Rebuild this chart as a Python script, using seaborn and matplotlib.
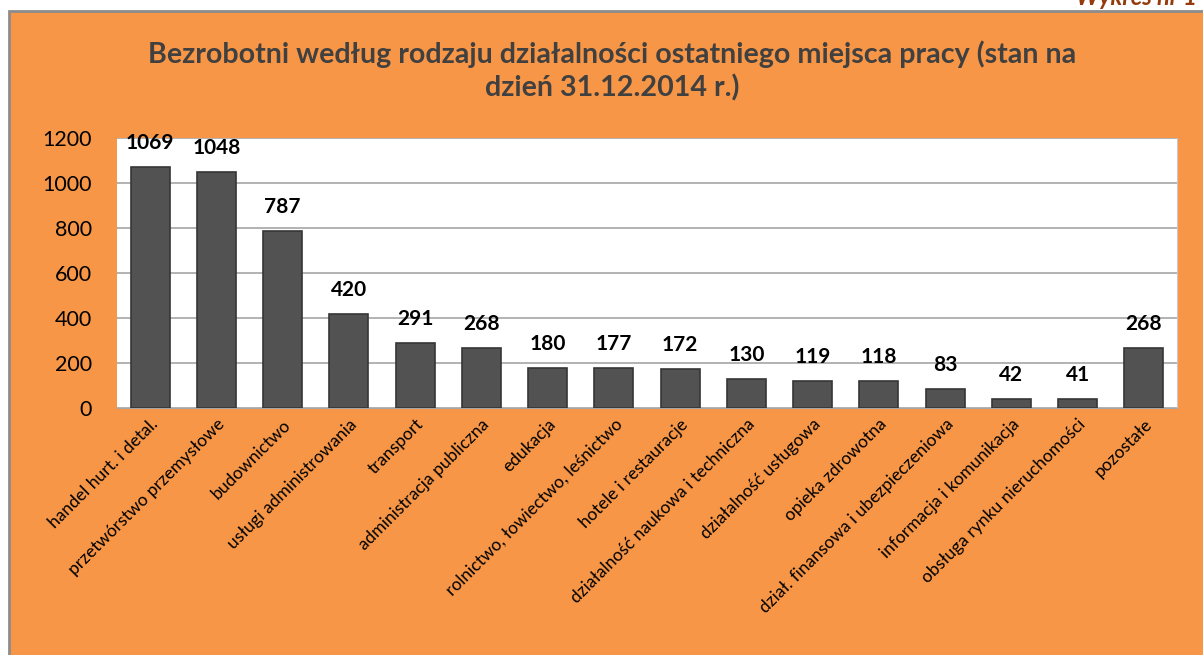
import matplotlib
matplotlib.use("Agg")
import matplotlib.pyplot as plt
import seaborn as sns
import pandas as pd
from matplotlib.patches import Rectangle

# dane
categories = [
    'handel hurt. i detal.', 'przetwórstwo przemysłowe', 'budownictwo',
    'usługi administrowania', 'transport', 'administracja publiczna',
    'edukacja', 'rolnictwo, łowiectwo, leśnictwo', 'hotele i restauracje',
    'działalność naukowa i techniczna', 'działalność usługowa',
    'opieka zdrowotna', 'dział. finansowa i ubezpieczeniowa',
    'informacja i komunikacja', 'obsługa rynku nieruchomości', 'pozostałe',
]
values = [1069, 1048, 787, 420, 291, 268, 180, 177, 172, 130, 119, 118, 83, 42, 41, 268]
y_ticks = [0, 200, 400, 600, 800, 1000, 1200]

title = 'Bezrobotni według rodzaju działalności ostatniego miejsca pracy (stan na\ndzień 31.12.2014 r.)'

df = pd.DataFrame({'kategoria': categories, 'liczba': values})

sns.set_style('white')
plt.rcParams['font.family'] = ['Lato', 'DejaVu Sans']

orange = '#F79646'
fig = plt.figure(figsize=(12.03, 6.55), dpi=100)
fig.patch.set_facecolor('white')

# tło panelu
panel = Rectangle((9 / 1203, -0.05), 1.1, 1.05 - 11 / 655, transform=fig.transFigure,
                  facecolor=orange, edgecolor='#8c8c8c', linewidth=2, zorder=-10)
fig.patches.append(panel)

fig.text(0.995, 1.0 + 0.004, 'Wykres nr 1', ha='right', va='center', fontsize=17,
         fontweight='bold', fontstyle='italic', color='#953a0a')

ax = fig.add_axes([117 / 1203, 1 - 408 / 655, (1177 - 117) / 1203, (408 - 138) / 655])
ax.set_facecolor('white')

sns.barplot(data=df, x='kategoria', y='liczba', color='#525252', width=0.59,
            edgecolor='#363636', linewidth=1.2, saturation=1, ax=ax, zorder=3)

ax.set_ylim(0, 1200)
ax.set_yticks(y_ticks)
ax.yaxis.grid(True, color='#a6a6a6', linewidth=1.2, zorder=0)
ax.set_axisbelow(True)
for s in ['top', 'left']:
    ax.spines[s].set_visible(False)
ax.spines['right'].set_color('#c8c8c8')
ax.spines['bottom'].set_color('#a6a6a6')

ax.set_xlabel('')
ax.set_ylabel('')
ax.tick_params(axis='y', labelsize=15.5, colors='black', pad=18, length=0)
ax.tick_params(axis='x', length=0, pad=6)
ax.set_xticks(range(len(categories)))
ax.set_xticklabels(categories, rotation=45, ha='right', rotation_mode='anchor',
                   fontsize=12.5, color='black')

for i, v in enumerate(values):
    ax.annotate(str(v), (i, v), xytext=(0, 24), textcoords='offset pixels',
                ha='center', va='center', fontsize=15, fontweight='bold', color='black',
                annotation_clip=False)

fig.text(0.509, 0.892, title, ha='center', va='center', fontsize=20.6, fontweight='bold',
         color='#404040', linespacing=1.3)

fig.savefig('out.png', dpi=100, facecolor=fig.get_facecolor())
